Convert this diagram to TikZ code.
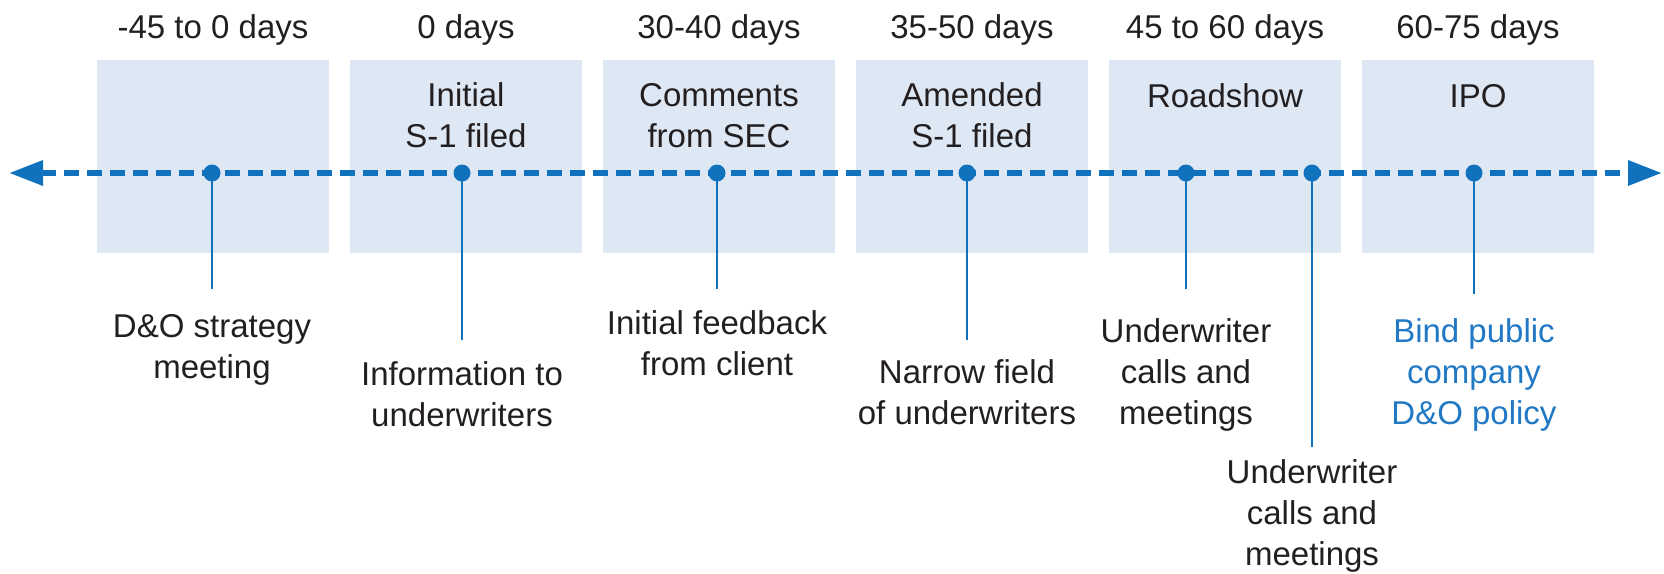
\documentclass[tikz,border=0pt]{standalone}
\usepackage{fontspec}
\setmainfont{Liberation Sans}
\usetikzlibrary{arrows.meta}
\definecolor{lineblue}{RGB}{16,114,189}
\definecolor{boxfill}{RGB}{222,232,245}
\definecolor{txt}{RGB}{35,31,32}
\definecolor{txtblue}{RGB}{33,120,196}
\begin{document}
\begin{tikzpicture}[x=0.5pt,y=-0.5pt,
  every node/.style={font=\fontsize{16.5}{20.5}\selectfont, text=txt, inner sep=0pt, outer sep=0pt},
  phasebox/.style={fill=boxfill, draw=none, minimum width=116pt, minimum height=96.5pt, anchor=north west},
  toplabel/.style={anchor=base},
  title/.style={anchor=base, align=center},
  evlabel/.style={anchor=base, align=center},
  dot/.style={circle, fill=lineblue, minimum size=8.5pt, inner sep=0pt},
  timeline/.style={draw=lineblue, line width=3.2pt, dash pattern=on 7.5pt off 4pt, {Triangle[length=17pt,width=12pt]}-{Triangle[length=17pt,width=12pt]}},
  stem/.style={draw=lineblue, line width=1.25pt}
]
\useasboundingbox (0,0) rectangle (1664,573);
% phase boxes
\node[phasebox] (b1) at (97,60) {};
\node[phasebox] (b2) at (350,60) {};
\node[phasebox] (b3) at (603,60) {};
\node[phasebox] (b4) at (856,60) {};
\node[phasebox] (b5) at (1109,60) {};
\node[phasebox] (b6) at (1362,60) {};
% top labels
\node[toplabel] (t1) at (213,38) {-45 to 0 days};
\node[toplabel] (t2) at (466,38) {0 days};
\node[toplabel] (t3) at (719,38) {30-40 days};
\node[toplabel] (t4) at (972,38) {35-50 days};
\node[toplabel] (t5) at (1225,38) {45 to 60 days};
\node[toplabel] (t6) at (1478,38) {60-75 days};
% box titles (anchor = baseline of last line)
\node[title] (s2) at (466,147) {Initial\\S-1 filed};
\node[title] (s3) at (719,147) {Comments\\from SEC};
\node[title] (s4) at (972,147) {Amended\\S-1 filed};
\node[title] (s5) at (1225,107) {Roadshow};
\node[title] (s6) at (1478,107) {IPO};
% timeline
\coordinate (L) at (9,173);
\coordinate (R) at (1662,173);
\draw[timeline] (L) -- (R);
% dots
\node[dot] (d1) at (212,173) {};
\node[dot] (d2) at (462,173) {};
\node[dot] (d3) at (717,173) {};
\node[dot] (d4) at (967,173) {};
\node[dot] (d5) at (1186,173) {};
\node[dot] (d6) at (1312,173) {};
\node[dot] (d7) at (1474,173) {};
% stem ends
\coordinate (e1) at (212,289);
\coordinate (e2) at (462,340);
\coordinate (e3) at (717,289);
\coordinate (e4) at (967,340);
\coordinate (e5) at (1186,289);
\coordinate (e6) at (1312,447);
\coordinate (e7) at (1474,294);
\draw[stem] (d1.center) -- (e1);
\draw[stem] (d2.center) -- (e2);
\draw[stem] (d3.center) -- (e3);
\draw[stem] (d4.center) -- (e4);
\draw[stem] (d5.center) -- (e5);
\draw[stem] (d6.center) -- (e6);
\draw[stem] (d7.center) -- (e7);
% event labels (anchor = baseline of last line)
\node[evlabel] (l1) at (212,378) {D\&O strategy\\meeting};
\node[evlabel] (l2) at (462,426) {Information to\\underwriters};
\node[evlabel] (l3) at (717,375) {Initial feedback\\from client};
\node[evlabel] (l4) at (967,424) {Narrow field\\of underwriters};
\node[evlabel] (l5) at (1186,424) {Underwriter\\calls and\\meetings};
\node[evlabel] (l6) at (1312,565) {Underwriter\\calls and\\meetings};
\node[evlabel, text=txtblue] (l7) at (1474,424) {Bind public\\company\\D\&O policy};
\end{tikzpicture}
\end{document}
